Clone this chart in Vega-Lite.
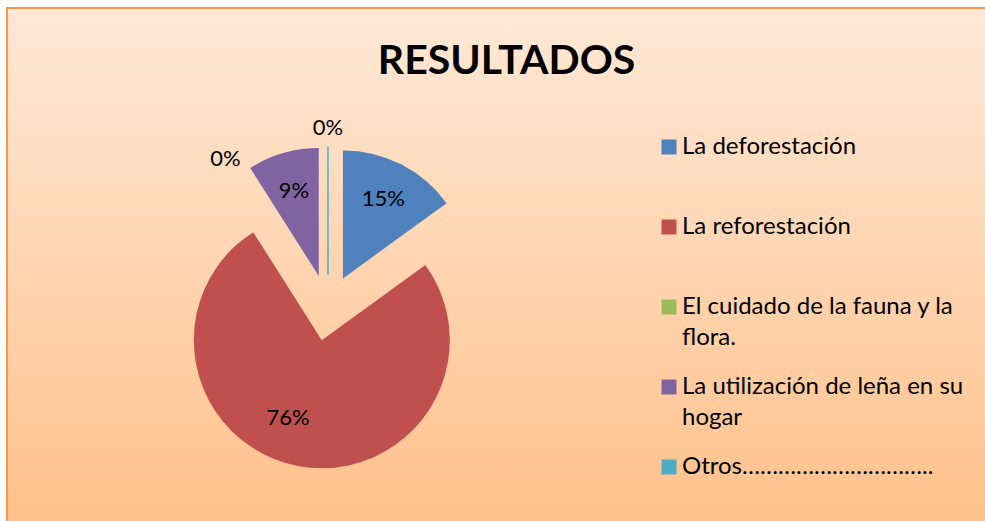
{
  "$schema": "https://vega.github.io/schema/vega-lite/v6.json",
  "autosize": {"type": "fit", "contains": "padding"},
  "width": 985,
  "height": 521,
  "padding": {"left": 7, "top": 8, "right": -3, "bottom": -3},
  "background": "#ffffff",
  "view": {
    "fill": {
      "gradient": "linear",
      "x1": 0, "y1": 0, "x2": 0, "y2": 1,
      "stops": [
        {"offset": 0, "color": "#FFE9D7"},
        {"offset": 1, "color": "#FFC18B"}
      ]
    },
    "stroke": "#F79646",
    "strokeWidth": 2
  },
  "title": {
    "text": "RESULTADOS",
    "font": "Lato",
    "fontSize": 41,
    "fontWeight": "bold",
    "color": "#000000",
    "anchor": "middle",
    "baseline": "alphabetic",
    "dx": 9,
    "offset": -107
  },
  "data": {
    "values": [
      {"n": 1, "categoria": "La deforestación", "valor": 0.15},
      {"n": 2, "categoria": "La reforestación", "valor": 0.76},
      {"n": 3, "categoria": "El cuidado de la fauna y la flora.", "valor": 0},
      {"n": 4, "categoria": "La utilización de leña en su hogar", "valor": 0.09},
      {"n": 5, "categoria": "Otros…………………………..", "valor": 0}
    ]
  },
  "encoding": {
    "theta": {"field": "valor", "type": "quantitative", "stack": true},
    "order": {"field": "n", "type": "quantitative"},
    "color": {
      "field": "categoria",
      "type": "nominal",
      "sort": null,
      "scale": {
        "domain": ["La deforestación", "La reforestación", "El cuidado de la fauna y la flora.", "La utilización de leña en su hogar", "Otros………………………….."],
        "range": ["#4F81BD", "#C0504D", "#9BBB59", "#8064A2", "#4BACC6"]
      },
      "legend": {
        "orient": "none",
        "legendX": 650,
        "legendY": 127,
        "title": null,
        "symbolType": "square",
        "symbolSize": 225,
        "symbolStrokeWidth": 0,
        "symbolOpacity": 1,
        "labelFont": "Lato",
        "labelFontSize": 24,
        "labelColor": "#000000",
        "labelOffset": 1,
        "labelLimit": 400,
        "rowPadding": 25,
        "labelExpr": "datum.label == 'El cuidado de la fauna y la flora.' ? ['El cuidado de la fauna y la', 'flora.'] : datum.label == 'La utilización de leña en su hogar' ? ['La utilización de leña en su', 'hogar'] : [datum.label, '']"
      }
    }
  },
  "layer": [
    {
      "mark": {
        "type": "arc",
        "outerRadius": 128,
        "strokeWidth": 1.5,
        "x": {"expr": "width*0.3272 + 33*sin(scale('theta', (datum.valor_start + datum.valor_end)/2))"},
        "y": {"expr": "height*0.581 - 33*cos(scale('theta', (datum.valor_start + datum.valor_end)/2))"}
      },
      "encoding": {
        "stroke": {
          "condition": {"test": "datum.n == 5", "value": "#4BACC6"},
          "value": null
        }
      }
    },
    {
      "mark": {
        "type": "text",
        "font": "Lato",
        "fontSize": 22,
        "color": "#000000",
        "x": {"expr": "width*0.3272"},
        "y": {"expr": "height*0.581"},
        "radius": {"expr": "datum.valor == 0 ? 180 : 122"},
        "dx": {"expr": "datum.n == 2 ? -17 : datum.n == 3 ? -6 : 0"},
        "dy": {"expr": "datum.n == 2 ? -10 : datum.n == 3 ? 3 : 0"}
      },
      "encoding": {
        "text": {"field": "valor", "type": "quantitative", "format": ".0%"},
        "color": {"value": "#000000"}
      }
    }
  ],
  "config": {
    "style": {
      "guide-label": {"lineHeight": 31}
    }
  }
}
